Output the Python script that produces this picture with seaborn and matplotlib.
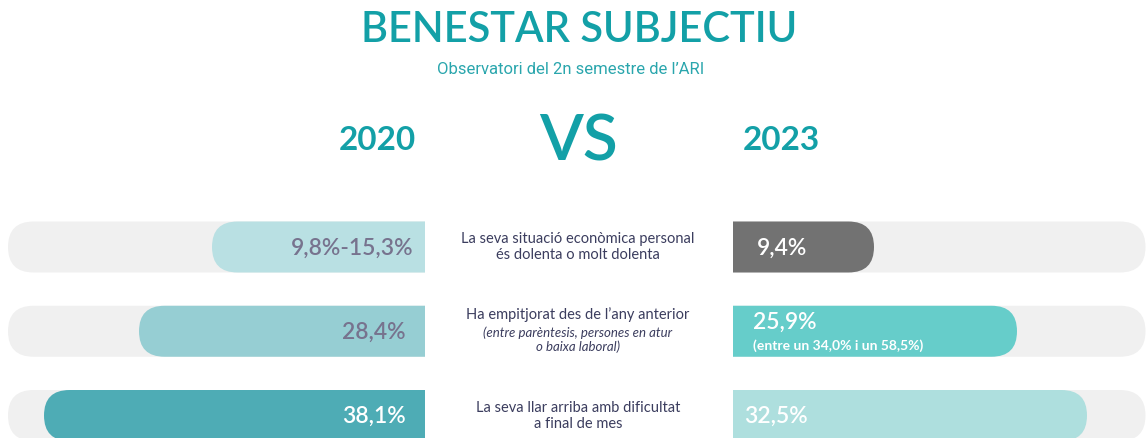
import numpy as np
import pandas as pd
import seaborn as sns
import matplotlib.pyplot as plt
from matplotlib.patches import FancyBboxPatch

# ---------------- data ----------------
items = ["eco", "empitjorat", "dificultat"]
item_text = [
    "La seva situació econòmica personal\nés dolenta o molt dolenta",
    "Ha empitjorat des de l’any anterior",
    "La seva llar arriba amb dificultat\na final de mes",
]
item_note = ["", "(entre parèntesis, persones en atur\no baixa laboral)", ""]
# bar lengths as drawn (percent scale of the picture)
bar_2020 = [21.3, 28.6, 38.1]
bar_2023 = [14.1, 28.4, 35.4]
labels_2020 = ["9,8%-15,3%", "28,4%", "38,1%"]
labels_2023 = ["9,4%", "25,9%", "32,5%"]
note_2023 = ["", "(entre un 34,0% i un 58,5%)", ""]
year_left, year_right = "2020", "2023"
title = "BENESTAR SUBJECTIU"
subtitle = "Observatori del 2n semestre de l’ARI"

# ---------------- style ----------------
colors_2020 = ["#b9e0e3", "#96ced3", "#4eacb5"]
colors_2023 = ["#727272", "#66cdca", "#aedfde"]
label_col_2020 = ["#77738e", "#77738e", "#ffffff"]
TEAL = "#13a0a7"
NAVY = "#3b3d5e"
BG = "#f0f0f0"

W, H = 1146, 439
sns.set_theme(style="white")
plt.rcParams["font.family"] = ["Lato", "DejaVu Sans"]

fig = plt.figure(figsize=(W / 100, H / 100), dpi=100)
fig.patch.set_facecolor("white")

def fx(px):
    return px / W

def fy(py):
    return 1 - py / H

row_pitch = 84.25
row0 = 248.0
bar_h_px = 51.0
y_top_px, y_bot_px = 206.0, 439.0
ylim = ((y_bot_px - row0) / row_pitch, (y_top_px - row0) / row_pitch)
bar_w = bar_h_px / row_pitch

df = pd.DataFrame({"item": items, "v2020": bar_2020, "v2023": bar_2023})

axL = fig.add_axes([fx(0), fy(y_bot_px), fx(425), (y_bot_px - y_top_px) / H])
axR = fig.add_axes([fx(733), fy(y_bot_px), fx(W - 733), (y_bot_px - y_top_px) / H])

sns.barplot(data=df, y="item", x="v2020", hue="item", palette=colors_2020,
            orient="h", width=bar_w, saturation=1, legend=False, ax=axL)
sns.barplot(data=df, y="item", x="v2023", hue="item", palette=colors_2023,
            orient="h", width=bar_w, saturation=1, legend=False, ax=axR)

axL.set_xlim(42.5, 0)
axR.set_xlim(0, 41.3)
for ax in (axL, axR):
    ax.set_ylim(*ylim)
    ax.axis("off")


def scale(ax):
    bb = ax.get_position()
    x0, x1 = ax.get_xlim()
    y0, y1 = ax.get_ylim()
    px = bb.width * W / abs(x1 - x0)
    py = bb.height * H / abs(y1 - y0)
    return px, py


def pill(ax, x, y, w, h, color, z):
    px, py = scale(ax)
    r = h * py / 2 / px
    p = FancyBboxPatch((x, y), w, h,
                       boxstyle=f"round,pad=0,rounding_size={r}",
                       mutation_aspect=px / py, fc=color, ec="none",
                       zorder=z, clip_on=True)
    ax.add_patch(p)
    return p


for ax, full, side in ((axL, 41.7, "L"), (axR, 41.3, "R")):
    rects = [p for p in ax.patches]
    for rect in rects:
        x, y = rect.get_x(), rect.get_y()
        w, h = rect.get_width(), rect.get_height()
        col = rect.get_facecolor()
        rect.remove()
        # background track
        if side == "L":
            pill(ax, -5, y, full + 5, h, BG, 1)
        else:
            pill(ax, -5, y, full + 5 - 0.05, h, BG, 1)
        # coloured bar, flat end hidden beyond the centre edge
        pill(ax, x - 5, y, w + 5, h, col, 2)

# value labels
for i, (lab, c) in enumerate(zip(labels_2020, label_col_2020)):
    off = 1.2 if i == 0 else 1.9
    axL.text(off, i, lab, ha="right", va="center", fontsize=16.5,
             color=c, fontweight="semibold", zorder=3)

r_off = [2.4, 2.0, 1.1]
for i, lab in enumerate(labels_2023):
    if note_2023[i]:
        axR.text(r_off[i], i - 0.12, lab, ha="left", va="center", fontsize=16.5,
                 color="white", fontweight="semibold", zorder=3)
        axR.text(r_off[i], i + 0.16, note_2023[i], ha="left", va="center",
                 fontsize=10, color="white", fontweight="bold", zorder=3)
    else:
        axR.text(r_off[i], i, lab, ha="left", va="center", fontsize=16.5,
                 color="white", fontweight="semibold", zorder=3)

# centre texts
cx = fx(578)
fig.text(cx, fy(247), item_text[0], ha="center", va="center", fontsize=10.5,
         color=NAVY, linespacing=1.25)
fig.text(cx, fy(315), item_text[1], ha="center", va="center", fontsize=10.5,
         color=NAVY)
fig.text(cx, fy(340), item_note[1], ha="center", va="center", fontsize=9.5,
         color=NAVY, style="italic", linespacing=1.15)
fig.text(cx, fy(416), item_text[2], ha="center", va="center", fontsize=10.5,
         color=NAVY, linespacing=1.25)

# headings
fig.text(fx(579), fy(30), title, ha="center", va="center", fontsize=30,
         color=TEAL, fontweight="semibold")
fig.text(fx(571), fy(70), subtitle, ha="center", va="center", fontsize=12,
         color="#2aa6ad", family=["Roboto", "DejaVu Sans"], fontweight="normal")
fig.text(fx(377), fy(140), year_left, ha="center", va="center", fontsize=24,
         color=TEAL, fontweight="bold")
fig.text(fx(781.5), fy(140), year_right, ha="center", va="center", fontsize=24,
         color=TEAL, fontweight="bold")
fig.text(fx(578), fy(142.5), "VS", ha="center", va="center", fontsize=46,
         color=TEAL, fontweight="semibold")

fig.savefig("out.png", dpi=100, facecolor="white")
